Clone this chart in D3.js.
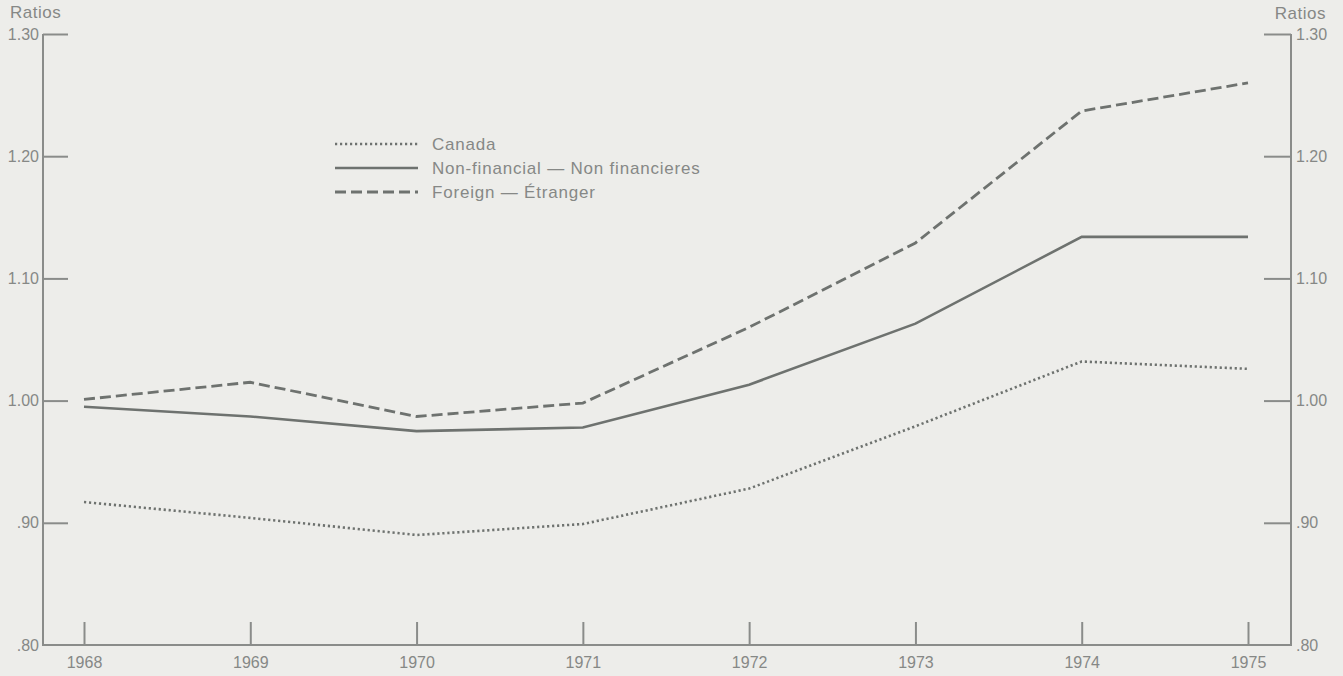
<!DOCTYPE html>
<html>
<head>
<meta charset="utf-8">
<script src="https://cdn.jsdelivr.net/npm/d3@7"></script>
<style>
  body { margin: 0; background: #ededea; }
  text { font-family: "Liberation Sans", Arial, sans-serif; fill: #868886; }
</style>
</head>
<body>
<div id="chart"></div>
<script>
var years = [1968, 1969, 1970, 1971, 1972, 1973, 1974, 1975];
var canada = [0.917, 0.904, 0.890, 0.899, 0.928, 0.979, 1.032, 1.026];
var nonFinancial = [0.995, 0.987, 0.975, 0.978, 1.013, 1.063, 1.134, 1.134];
var foreign = [1.001, 1.015, 0.987, 0.998, 1.060, 1.129, 1.237, 1.260];
var yTicks = [0.80, 0.90, 1.00, 1.10, 1.20, 1.30];
var seriesNames = ["Canada", "Non-financial \u2014 Non financieres", "Foreign \u2014 \u00c9tranger"];

var width = 1343, height = 676;
var lineColor = "#6e726f", axisColor = "#8a8c8a";
var frameLeft = 43, frameRight = 1291;

var svg = d3.select("#chart").append("svg")
    .attr("width", width)
    .attr("height", height);

var x = d3.scaleLinear().domain([1968, 1975]).range([84, 1248]);
var y = d3.scaleLinear().domain([0.8, 1.3]).range([645, 34]);

function fmt(v) {
  var s = d3.format(".2f")(v);
  return v < 1 ? s.replace("0.", ".") : s;
}

// frame
svg.append("path")
  .attr("d", "M" + frameLeft + "," + y(1.3) + "V" + y(0.8) + "H" + frameRight + "V" + y(1.3))
  .attr("fill", "none")
  .attr("stroke", axisColor)
  .attr("stroke-width", 2);

// left axis, ticks point inwards
var left = svg.append("g")
  .attr("transform", "translate(" + frameLeft + ",0)")
  .call(d3.axisLeft(y).tickValues(yTicks).tickFormat(fmt).tickSizeInner(-25).tickSizeOuter(0).tickPadding(4));

var right = svg.append("g")
  .attr("transform", "translate(" + frameRight + ",0)")
  .call(d3.axisRight(y).tickValues(yTicks).tickFormat(fmt).tickSizeInner(-27).tickSizeOuter(0).tickPadding(5));

var bottom = svg.append("g")
  .attr("transform", "translate(0," + y(0.8) + ")")
  .call(d3.axisBottom(x).tickValues(years).tickFormat(d3.format("d")).tickSizeInner(-23).tickSizeOuter(0).tickPadding(12));

[left, right, bottom].forEach(function(g) {
  g.select(".domain").remove();
  g.selectAll(".tick line").attr("stroke", axisColor).attr("stroke-width", 2);
  g.selectAll(".tick text")
    .attr("fill", "#868886")
    .style("font-size", "16px")
    .style("font-family", "'Liberation Sans', Arial, sans-serif");
});
// the .80 ticks sit on the bottom line
left.selectAll(".tick").filter(d => d == 0.8).select("line").remove();
right.selectAll(".tick").filter(d => d == 0.8).select("line").remove();

svg.append("text").attr("x", 10).attr("y", 18)
  .style("font-size", "17px").style("letter-spacing", "0.5px").text("Ratios");
svg.append("text").attr("x", 1326).attr("y", 19).attr("text-anchor", "end")
  .style("font-size", "17px").style("letter-spacing", "0.5px").text("Ratios");

var line = d3.line()
  .x((d, i) => x(years[i]))
  .y(d => y(d));

var styles = [
  { data: canada, dash: "2.2,2.8", width: 2.6 },
  { data: nonFinancial, dash: null, width: 2.6 },
  { data: foreign, dash: "11,5", width: 2.8 }
];

styles.forEach(function(s) {
  svg.append("path")
    .datum(s.data)
    .attr("d", line)
    .attr("fill", "none")
    .attr("stroke", lineColor)
    .attr("stroke-width", s.width)
    .attr("stroke-dasharray", s.dash);
});

// legend
var legend = svg.append("g");
styles.forEach(function(s, i) {
  var ly = 144 + i * 24;
  legend.append("line")
    .attr("x1", 335).attr("x2", 418)
    .attr("y1", ly).attr("y2", ly)
    .attr("stroke", lineColor)
    .attr("stroke-width", s.width)
    .attr("stroke-dasharray", s.dash);
  legend.append("text")
    .attr("x", 432).attr("y", ly + 6)
    .style("font-size", "17px")
    .style("letter-spacing", "0.8px")
    .text(seriesNames[i]);
});
</script>
</body>
</html>
